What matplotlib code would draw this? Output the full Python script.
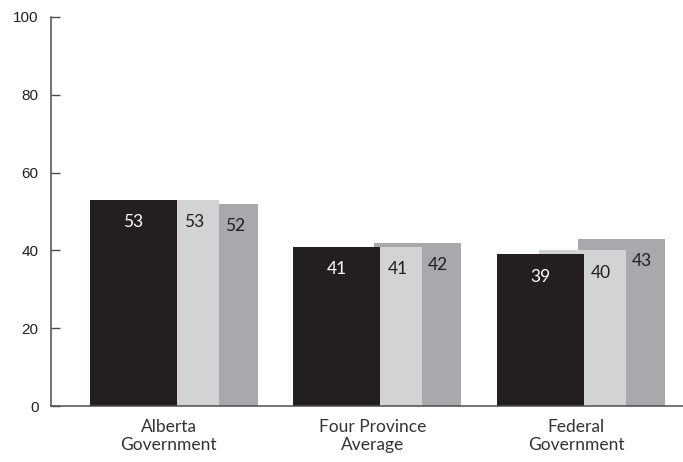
import matplotlib
matplotlib.use('Agg')
import matplotlib.pyplot as plt

# data
groups = ['Alberta\nGovernment', 'Four Province\nAverage', 'Federal\nGovernment']
series_black = [53, 41, 39]
series_light = [53, 41, 40]
series_dark = [52, 42, 43]

yticks = [0, 20, 40, 60, 80, 100]

col_black = '#231f20'
col_light = '#d1d3d4'
col_dark = '#a7a9ac'
col_axis = '#4d4d4d'

# bars overlap: each one is wide, the next one starts under the previous
width = 0.4275
offsets = [0.0, 0.206, 0.398]
start = -0.413   # left edge of black bar, relative to group centre

label_font = ['Lato', 'DejaVu Sans']
tick_font = ['Liberation Sans', 'DejaVu Sans']


def draw_labels(ax, x, vals, colour):
	for xi, v in zip(x, vals):
		ax.text(xi, v - 5.8, str(v), ha='center', va='center',
			fontsize=12.5, color=colour, family=label_font)


fig = plt.figure(figsize=(6.83, 4.62), dpi=100)
ax = fig.add_axes([51 / 683, 56 / 462, 632 / 683, 389 / 462])

xpos = list(range(len(groups)))
x_black = [i + start + offsets[0] for i in xpos]
x_light = [i + start + offsets[1] for i in xpos]
x_dark = [i + start + offsets[2] for i in xpos]

# back to front
ax.bar(x_dark, series_dark, width=width, align='edge', color=col_dark, zorder=1)
ax.bar(x_light, series_light, width=width, align='edge', color=col_light, zorder=2)
ax.bar(x_black, series_black, width=width, align='edge', color=col_black, zorder=3)

# value labels, centred on the visible part of each bar
shift = -0.018
lab_black = [x + width / 2 for x in x_black]
lab_light = [(xb + width + xl + width) / 2 + shift for xb, xl in zip(x_black, x_light)]
lab_dark = [(xl + width + xd + width) / 2 + shift for xl, xd in zip(x_light, x_dark)]
draw_labels(ax, lab_black, series_black, 'white')
draw_labels(ax, lab_light, series_light, col_black)
draw_labels(ax, lab_dark, series_dark, col_black)

ax.set_xlim(-0.604, 2.501)
ax.set_ylim(0, 100)

ax.set_yticks(yticks)
ax.set_yticklabels([str(t) for t in yticks], family=tick_font, fontsize=11, color=col_black)
ax.tick_params(axis='y', direction='in', length=6.5, width=1, color=col_axis, pad=9)

ax.set_xticks([i - 0.025 for i in xpos])
ax.set_xticklabels(groups, family=label_font, fontsize=12.5, color='#333333', linespacing=1.2)
ax.tick_params(axis='x', length=0, pad=9)

for side in ['top', 'right']:
	ax.spines[side].set_visible(False)
for side in ['left', 'bottom']:
	ax.spines[side].set_color(col_axis)
	ax.spines[side].set_linewidth(1.1)
	ax.spines[side].set_zorder(5)

fig.savefig('out.png', dpi=100)
